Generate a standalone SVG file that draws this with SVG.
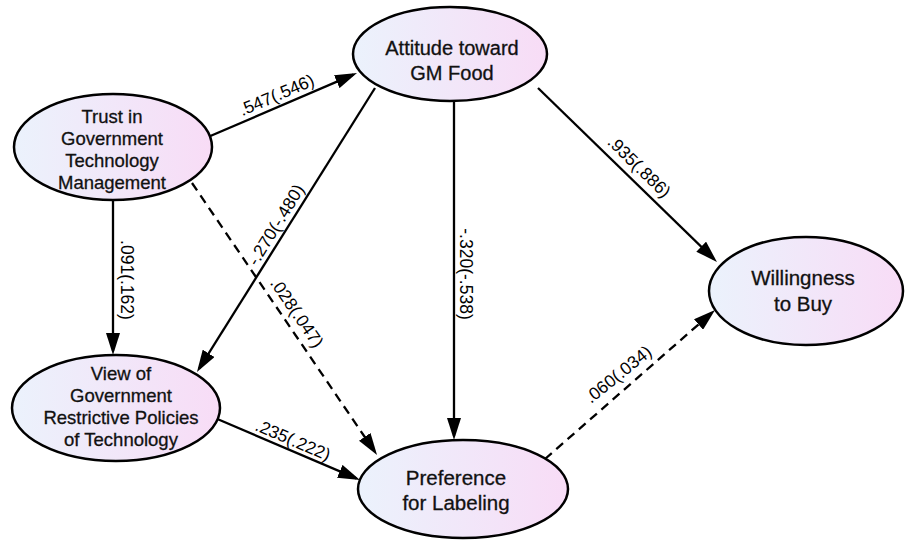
<svg xmlns="http://www.w3.org/2000/svg" width="906" height="540" viewBox="0 0 906 540">
<style>
.node{fill:url(#g);stroke:#000;stroke-width:2.5}
.nt{font-family:"Liberation Sans",Arial,sans-serif;fill:#111;text-anchor:middle;stroke:#111;stroke-width:0.3}
.c{stroke:#000;stroke-width:2.3;fill:none;marker-end:url(#ah)}
.d{stroke-dasharray:9 6}
.lb{font-family:"Liberation Sans",Arial,sans-serif;font-size:17.5px;fill:#000;text-anchor:middle}
</style>
<defs>
<linearGradient id="g" x1="0" y1="0" x2="1" y2="0">
<stop offset="0" stop-color="#ebf2fc"/>
<stop offset="1" stop-color="#f8dcf6"/>
</linearGradient>
<marker id="ah" viewBox="0 0 22 14" refX="18" refY="7" markerWidth="22" markerHeight="14" markerUnits="userSpaceOnUse" orient="auto">
<path d="M0,0 L22,7 L0,14 z" fill="#000"/>
</marker>
</defs>
<rect width="906" height="540" fill="#fff"/>
<g id="connectors">
<line class="c" x1="208" y1="137" x2="353.3" y2="74.6"/>
<line class="c" x1="113" y1="200" x2="113" y2="351"/>
<line class="c" x1="375" y1="88" x2="199.1" y2="368.6"/>
<line class="c d" x1="192" y1="183" x2="374.8" y2="451.7"/>
<line class="c" x1="454" y1="101" x2="454" y2="436"/>
<line class="c" x1="538" y1="88" x2="714.1" y2="259.2"/>
<line class="c" x1="215" y1="418" x2="356.3" y2="478.4"/>
<line class="c d" x1="545" y1="459" x2="712" y2="312.6"/>
<text class="lb" transform="translate(279,100.5) rotate(-23.2)">.547(.546)</text>
<text class="lb" transform="translate(121,280) rotate(90)">.091(.162)</text>
<text class="lb" transform="translate(281,228) rotate(-58.3)">-.270(-.480)</text>
<text class="lb" transform="translate(292,316) rotate(55.8)">.028(.047)</text>
<text class="lb" transform="translate(460,274) rotate(90)">-.320(-.538)</text>
<text class="lb" transform="translate(635,171) rotate(44.2)">.935(.886)</text>
<text class="lb" transform="translate(290.6,445.5) rotate(23.2)">.235(.222)</text>
<text class="lb" transform="translate(622,379) rotate(-39)">.060(.034)</text>
</g>
<g id="trust">
<ellipse class="node" cx="113" cy="147" rx="99" ry="53"/>
<text class="nt" font-size="18.5" x="112" y="123">Trust in</text>
<text class="nt" font-size="18.5" x="112" y="145">Government</text>
<text class="nt" font-size="18.5" x="112" y="167">Technology</text>
<text class="nt" font-size="18.5" x="112" y="189">Management</text>
</g>
<g id="attitude">
<ellipse class="node" cx="450" cy="54" rx="97" ry="47"/>
<text class="nt" font-size="20" x="452" y="55">Attitude toward</text>
<text class="nt" font-size="20" x="452" y="80">GM Food</text>
</g>
<g id="view">
<ellipse class="node" cx="116" cy="408" rx="104" ry="53"/>
<text class="nt" font-size="18.5" x="121" y="380">View of</text>
<text class="nt" font-size="18.5" x="121" y="402">Government</text>
<text class="nt" font-size="18.5" x="121" y="424">Restrictive Policies</text>
<text class="nt" font-size="18.5" x="121" y="446">of Technology</text>
</g>
<g id="preference">
<ellipse class="node" cx="463" cy="489" rx="105" ry="49"/>
<text class="nt" font-size="20.5" x="456" y="485">Preference</text>
<text class="nt" font-size="20.5" x="456" y="510">for Labeling</text>
</g>
<g id="willingness">
<ellipse class="node" cx="806" cy="291" rx="97" ry="54"/>
<text class="nt" font-size="20.5" x="803" y="285">Willingness</text>
<text class="nt" font-size="20.5" x="803" y="311">to Buy</text>
</g>
</svg>
